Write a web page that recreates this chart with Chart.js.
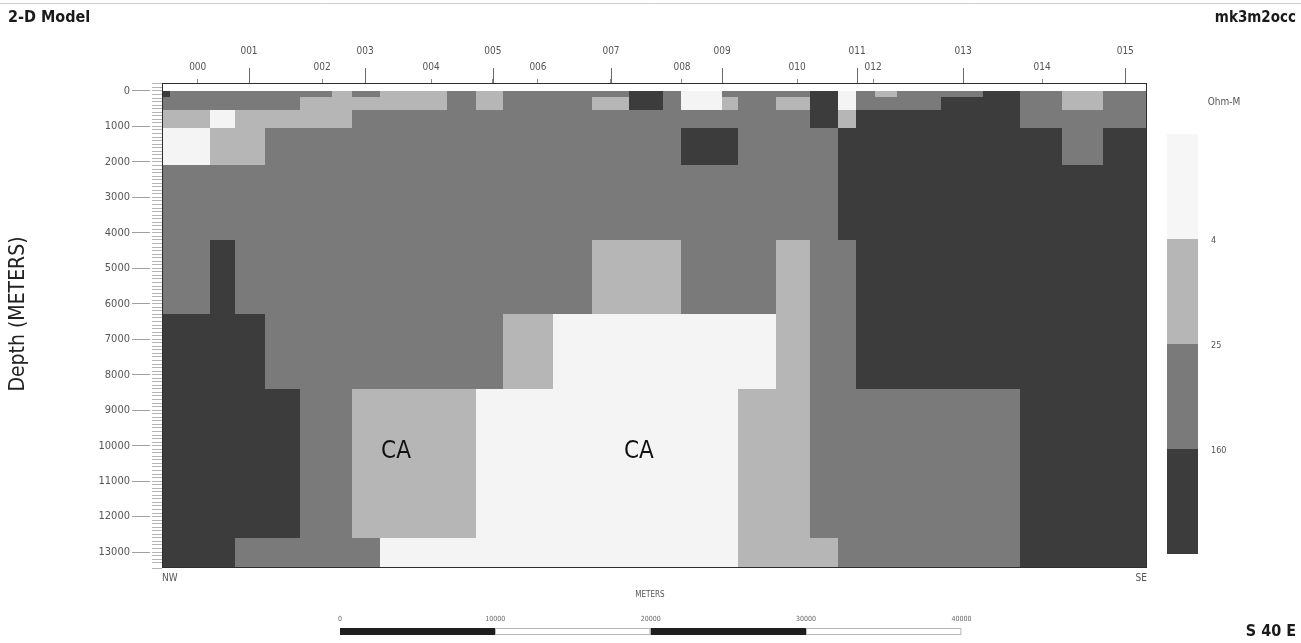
<!DOCTYPE html>
<html>
<head>
<meta charset="utf-8">
<title>2-D Model mk3m2occ</title>
<script src="https://cdn.jsdelivr.net/npm/chart.js@4.4.1/dist/chart.umd.min.js"></script>
<style>
  html, body { margin: 0; padding: 0; background: #ffffff; }
  #wrap { width: 1301px; height: 643px; position: relative; }
</style>
</head>
<body>
<div id="wrap"><canvas id="model" width="1301" height="643"></canvas></div>
<script>
// Station names along the profile and their distance from the NW end (m)
const stationNames = ['000','001','002','003','004','005','006','007','008','009','010','011','012','013','014','015'];
const stationOffsets = [2300, 5600, 10300, 13070, 17320, 21300, 24200, 28900, 33470, 36050, 40880, 44740, 45770, 51560, 56650, 62000];

// Depth labels (m)
const depthTicks = [0, 1000, 2000, 3000, 4000, 5000, 6000, 7000, 8000, 9000, 10000, 11000, 12000, 13000];

// Model mesh: column edges along the profile (m) and layer tops (m)
const columnEdges = [0, 515, 3090, 4700, 6630, 8880, 10940, 12230, 14030, 18350, 20210, 21950, 25170, 27680, 30060,
                     32250, 33410, 36050, 37080, 39520, 41710, 43510, 44670, 45900, 47310, 50140, 52850, 55230, 57930, 60570, 63400];
const layerTops = [0, 175, 525, 1050, 2100, 4200, 6300, 8400, 12600];
const modelBase = 13450;

// Resistivity band of every cell, one array per layer (0: <4, 1: 4-25, 2: 25-160, 3: >160 ohm-m)
const layer0 = [3,2,2,2,2,2,1,2,1,2,1,2,2,2,3,2,0,2,2,2,3,0,2,1,2,2,3,2,1,2];
const layer1 = [2,2,2,2,2,1,1,1,1,2,1,2,2,1,3,2,0,1,2,1,3,0,2,2,2,3,3,2,1,2];
const layer2 = [1,1,0,1,1,1,1,2,2,2,2,2,2,2,2,2,2,2,2,2,3,1,3,3,3,3,3,2,2,2];
const layer3 = [0,0,1,1,2,2,2,2,2,2,2,2,2,2,2,2,3,3,2,2,2,3,3,3,3,3,3,3,2,3];
const layer4 = [2,2,2,2,2,2,2,2,2,2,2,2,2,2,2,2,2,2,2,2,2,3,3,3,3,3,3,3,3,3];
const layer5 = [2,2,3,2,2,2,2,2,2,2,2,2,2,1,1,1,2,2,2,1,2,2,3,3,3,3,3,3,3,3];
const layer6 = [3,3,3,3,2,2,2,2,2,2,2,1,0,0,0,0,0,0,0,1,2,2,3,3,3,3,3,3,3,3];
const layer7 = [3,3,3,3,3,2,2,1,1,1,0,0,0,0,0,0,0,0,1,1,2,2,2,2,2,2,2,3,3,3];
const layer8 = [3,3,3,2,2,2,2,2,0,0,0,0,0,0,0,0,0,0,1,1,1,2,2,2,2,2,2,3,3,3];
const layers = [layer0, layer1, layer2, layer3, layer4, layer5, layer6, layer7, layer8];

// Colour scale
const resistivityBreaks = [4, 25, 160];
const bandColors = ['#f4f4f4', '#b6b6b6', '#7a7a7a', '#3c3c3c'];

// Labelled bodies in the section
const bodyLabels = [
  { text: 'CA', x: 15060, depth: 10180 },
  { text: 'CA', x: 30700, depth: 10180 }
];

// Graphic scale bar marks (m)
const scaleBarMarks = [0, 10000, 20000, 30000, 40000];

const NARROW = "'Liberation Sans Narrow', 'DejaVu Sans Condensed', 'Arial Narrow', sans-serif";
const profileLength = columnEdges[columnEdges.length - 1];
const depthMin = -225;

// One record per mesh cell
const cells = [];
layers.forEach((row, li) => {
  const d0 = layerTops[li];
  const d1 = li + 1 < layerTops.length ? layerTops[li + 1] : modelBase;
  row.forEach((band, ci) => {
    const x0 = columnEdges[ci], x1 = columnEdges[ci + 1];
    cells.push({ x: (x0 + x1) / 2, y: (d0 + d1) / 2, x0, x1, d0, d1, band });
  });
});

const cellPlugin = {
  id: 'cellPlugin',
  beforeDatasetsDraw(chart) {
    const { ctx, chartArea } = chart;
    const xs = chart.scales.x, ys = chart.scales.y;
    ctx.save();
    ctx.beginPath();
    ctx.rect(chartArea.left, chartArea.top, chartArea.right - chartArea.left, chartArea.bottom - chartArea.top);
    ctx.clip();
    chart.data.datasets[0].data.forEach(c => {
      const px0 = Math.round(xs.getPixelForValue(c.x0));
      const px1 = Math.round(xs.getPixelForValue(c.x1));
      const py0 = Math.round(ys.getPixelForValue(c.d0));
      const py1 = Math.round(ys.getPixelForValue(c.d1));
      ctx.fillStyle = bandColors[c.band];
      ctx.fillRect(px0, py0, px1 - px0, py1 - py0);
    });
    ctx.restore();
  },
  afterDraw(chart) {
    const { ctx, chartArea } = chart;
    const xs = chart.scales.x, ys = chart.scales.y;
    ctx.save();

    // plot frame
    ctx.strokeStyle = '#2e2e2e';
    ctx.lineWidth = 1;
    ctx.strokeRect(Math.round(chartArea.left) + 0.5, Math.round(chartArea.top) + 0.5,
                   Math.round(chartArea.right - chartArea.left) - 1, Math.round(chartArea.bottom - chartArea.top) - 1);

    // long ticks for the upper row of station labels
    ctx.strokeStyle = '#6a6a6a';
    stationOffsets.forEach((s, i) => {
      if (i % 2 === 1) {
        const px = Math.round(xs.getPixelForValue(s)) + 0.5;
        ctx.beginPath();
        ctx.moveTo(px, chartArea.top);
        ctx.lineTo(px, chartArea.top - 15);
        ctx.stroke();
      }
    });

    // labelled bodies
    ctx.fillStyle = '#111111';
    ctx.font = '24px ' + NARROW;
    ctx.textAlign = 'center';
    ctx.textBaseline = 'middle';
    bodyLabels.forEach(b => {
      ctx.fillText(b.text, xs.getPixelForValue(b.x), ys.getPixelForValue(b.depth));
    });

    // headings
    ctx.fillStyle = '#1a1a1a';
    ctx.textBaseline = 'middle';
    ctx.font = 'bold 16px ' + NARROW;
    ctx.textAlign = 'left';
    ctx.fillText('2-D Model', 8, 18);
    ctx.textAlign = 'right';
    ctx.font = 'bold 15px ' + NARROW;
    ctx.fillText('mk3m2occ', 1296, 18);
    ctx.font = 'bold 16px ' + NARROW;
    ctx.fillText('S 40 E', 1296, 632);

    // depth axis title
    ctx.save();
    ctx.translate(19, 314);
    ctx.rotate(-Math.PI / 2);
    ctx.textAlign = 'center';
    ctx.font = '21px ' + NARROW;
    ctx.fillStyle = '#222222';
    ctx.fillText('Depth (METERS)', 0, 0);
    ctx.restore();

    // profile ends and distance caption
    ctx.fillStyle = '#555555';
    ctx.font = '10px ' + NARROW;
    ctx.textAlign = 'left';
    ctx.fillText('NW', chartArea.left, 578);
    ctx.textAlign = 'right';
    ctx.fillText('SE', chartArea.right, 578);
    ctx.textAlign = 'center';
    ctx.font = '8px ' + NARROW;
    ctx.fillText('METERS', 650, 595);

    // colour scale
    const barLeft = 1167, barWidth = 31, segH = 105, barTop = 134;
    bandColors.forEach((col, i) => {
      ctx.fillStyle = i === 0 ? '#f6f6f6' : col;
      ctx.fillRect(barLeft, barTop + i * segH, barWidth, segH);
    });
    ctx.fillStyle = '#555555';
    ctx.font = '10px ' + NARROW;
    ctx.textAlign = 'center';
    ctx.fillText('Ohm-M', 1224, 102);
    ctx.textAlign = 'left';
    ctx.font = '9px ' + NARROW;
    resistivityBreaks.forEach((v, i) => {
      ctx.fillText(String(v), 1211, barTop + (i + 1) * segH + 2);
    });

    // graphic scale bar
    const unit = xs.getPixelForValue(10000) - xs.getPixelForValue(0);
    const sbLeft = 340, sbTop = 628, sbH = 7;
    ctx.font = '7px ' + NARROW;
    ctx.textAlign = 'center';
    scaleBarMarks.forEach((m, i) => {
      const px = sbLeft + (m / 10000) * unit;
      ctx.fillStyle = '#666666';
      ctx.fillText(String(m), px, 619);
      if (i < scaleBarMarks.length - 1) {
        const w = ((scaleBarMarks[i + 1] - m) / 10000) * unit;
        if (i % 2 === 0) {
          ctx.fillStyle = '#1e1e1e';
          ctx.fillRect(px, sbTop, w, sbH);
        } else {
          ctx.strokeStyle = '#b8b8b8';
          ctx.strokeRect(Math.round(px) + 0.5, sbTop + 0.5, w - 1, sbH - 1);
        }
      }
    });

    // sheet edge
    ctx.strokeStyle = '#cfcfcf';
    ctx.beginPath();
    ctx.moveTo(0, 3.5);
    ctx.lineTo(1301, 3.5);
    ctx.stroke();

    ctx.restore();
  }
};

new Chart(document.getElementById('model'), {
  type: 'scatter',
  data: {
    datasets: [{
      label: 'Resistivity model',
      data: cells,
      pointRadius: 0,
      pointHoverRadius: 0,
      showLine: false
    }]
  },
  options: {
    responsive: false,
    animation: false,
    devicePixelRatio: 1,
    events: [],
    layout: { padding: { left: 0, right: 154, top: 0, bottom: 75 } },
    plugins: { legend: { display: false }, tooltip: { enabled: false } },
    scales: {
      x: { type: 'linear', min: 0, max: profileLength, display: false },
      stations: {
        type: 'linear', position: 'top', min: 0, max: profileLength,
        afterBuildTicks: s => { s.ticks = stationOffsets.map(v => ({ value: v })); },
        afterFit: s => { s.height = 83; },
        border: { display: false },
        grid: { drawOnChartArea: false, drawTicks: true, tickLength: 4, tickColor: '#8a8a8a' },
        ticks: {
          autoSkip: false, maxRotation: 0, padding: 4, color: '#555555',
          font: { family: NARROW, size: 10, lineHeight: 1.6 },
          callback: (v, i) => (i % 2 === 1 ? [stationNames[i], ''] : stationNames[i])
        }
      },
      y: {
        type: 'linear', position: 'left', reverse: true, min: depthMin, max: modelBase, weight: 1,
        afterBuildTicks: s => { s.ticks = depthTicks.map(v => ({ value: v })); },
        afterFit: s => { s.width = 150; },
        border: { display: false },
        grid: { drawOnChartArea: false, tickLength: 18, tickColor: '#a0a0a0' },
        ticks: {
          autoSkip: false, padding: 2, color: '#555555',
          font: { family: NARROW, size: 11 },
          callback: v => String(v)
        }
      },
      yRuler: {
        type: 'linear', position: 'left', reverse: true, min: depthMin, max: modelBase, weight: 0,
        afterFit: s => { s.width = 12; },
        border: { display: false },
        grid: { drawOnChartArea: false, tickLength: 10, tickColor: '#b4b4b4' },
        ticks: { display: false, stepSize: 100 }
      }
    }
  },
  plugins: [cellPlugin]
});
</script>
</body>
</html>
